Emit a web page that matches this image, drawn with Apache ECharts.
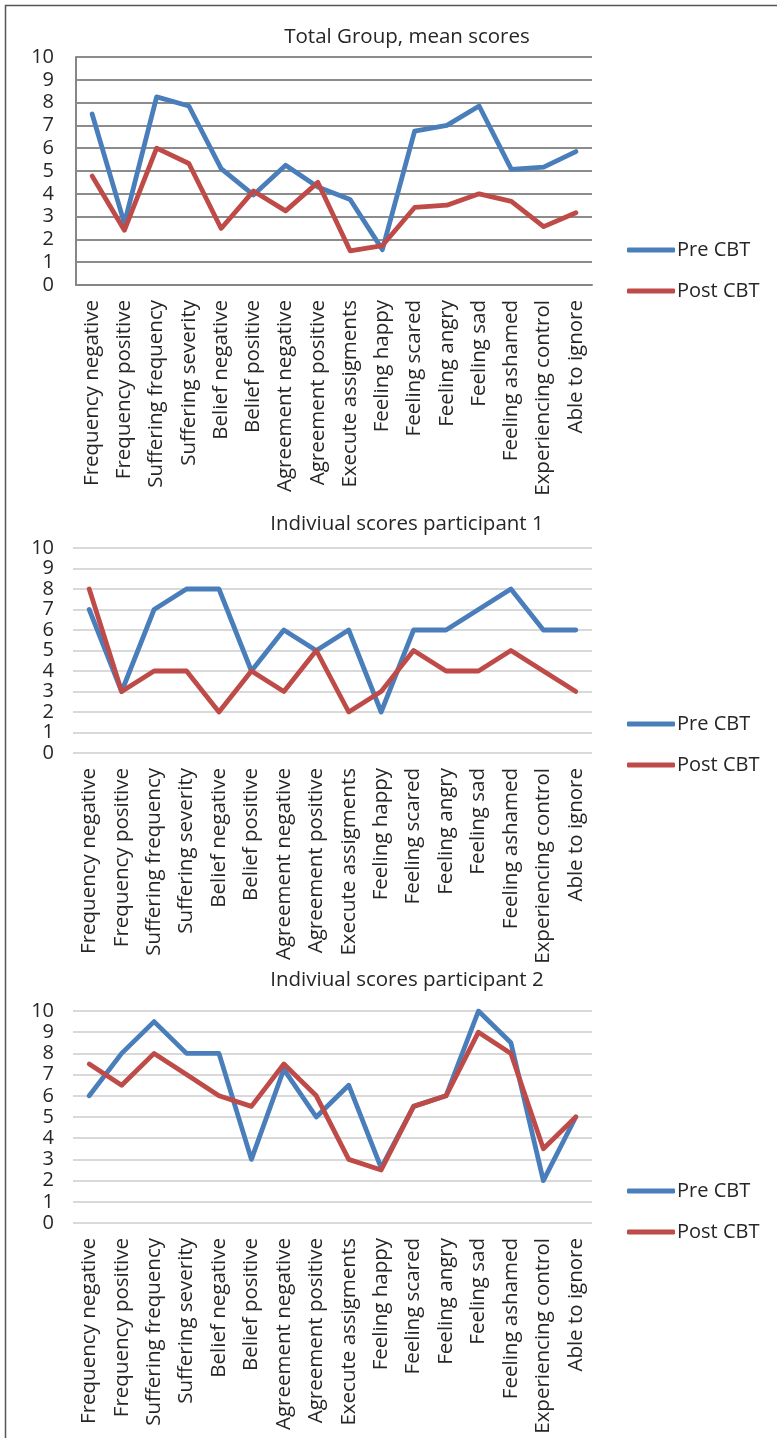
<!DOCTYPE html>
<html>
<head>
<meta charset="utf-8">
<script src="https://cdn.jsdelivr.net/npm/echarts@6/dist/echarts.min.js"></script>
<style>
html,body{margin:0;padding:0;background:#fff;}
#c{width:777px;height:1438px;}
</style>
</head>
<body>
<div id="c"></div>
<script>
var categories = ["Frequency negative","Frequency positive","Suffering frequency","Suffering severity","Belief negative","Belief positive","Agreement negative","Agreement positive","Execute assigments","Feeling happy","Feeling scared","Feeling angry","Feeling sad","Feeling ashamed","Experiencing control","Able to ignore"];
var yTicks = [0,1,2,3,4,5,6,7,8,9,10];
var titles = ["Total Group, mean scores","Indiviual scores participant 1","Indiviual scores participant 2"];
var seriesNames = ["Pre CBT","Post CBT"];

var totalPre  = [7.5, 2.7, 8.25, 7.85, 5.1, 3.95, 5.25, 4.3, 3.75, 1.55, 6.75, 7.0, 7.85, 5.07, 5.17, 5.85];
var totalPost = [4.78, 2.4, 6.0, 5.33, 2.48, 4.12, 3.25, 4.5, 1.5, 1.73, 3.4, 3.5, 4.0, 3.67, 2.56, 3.17];
var p1Pre  = [7, 3, 7, 8, 8, 4, 6, 5, 6, 2, 6, 6, 7, 8, 6, 6];
var p1Post = [8, 3, 4, 4, 2, 4, 3, 5, 2, 3, 5, 4, 4, 5, 4, 3];
var p2Pre  = [6, 8, 9.5, 8, 8, 3, 7.25, 5, 6.5, 2.6, 5.5, 6, 10, 8.5, 2, 5];
var p2Post = [7.5, 6.5, 8, 7, 6, 5.5, 7.5, 6, 3, 2.5, 5.5, 6, 9, 8, 3.5, 5];

var FONT = "Open Sans";
var TXT = "#262626";
var BLUE = "#4a7ebb";
var RED = "#be4b48";

var chart = echarts.init(document.getElementById('c'), null, {renderer:'canvas'});

var grids = [
  {left:76, top:57, width:516, height:228},
  {left:73, top:548, width:519, height:205},
  {left:73, top:1011, width:519, height:212}
];
var titleTops = [22, 509, 965];
var legendTops = [235, 709, 1176];
var data = [[totalPre,totalPost],[p1Pre,p1Post],[p2Pre,p2Post]];

var option = {
  animation:false,
  backgroundColor:'#fff',
  title: titles.map(function(t,i){return {text:t,left:402,top:titleTops[i],textAlign:'center',
    textStyle:{fontFamily:FONT,fontSize:20.5,fontWeight:'normal',color:TXT}};}),
  legend: [0,1,2].map(function(i){return {
    data:seriesNames, orient:'vertical', left:622, top:legendTops[i],
    itemWidth:48, itemHeight:5, itemGap:21, icon:'roundRect',
    textStyle:{fontFamily:FONT,fontSize:20,color:TXT,padding:[0,0,0,-3]},
    selectedMode:false
  };}),
  grid: grids,
  xAxis: [0,1,2].map(function(i){return {
    type:'category', gridIndex:i, data:categories, boundaryGap:true,
    axisTick:{show:false},
    axisLine:{show:i===0, lineStyle:{color:'#868686',width:2}},
    axisLabel:{rotate:90, interval:0, margin:15, fontFamily:FONT, fontSize:20.5, color:TXT},
    splitLine:{show:false}
  };}),
  yAxis: [0,1,2].map(function(i){return {
    type:'value', gridIndex:i, min:yTicks[0], max:yTicks[yTicks.length-1], interval:1,
    axisTick:{show:false},
    axisLine:{show:i===0, lineStyle:{color:'#868686',width:2}},
    axisLabel:{margin:i===0?22:19, fontFamily:FONT, fontSize:20, color:TXT},
    splitLine:{show:true, lineStyle:{color:i===0?'#8c8c8c':'#d9d9d9', width:2}}
  };}),
  series: [],
  graphic: [
    {type:'line', shape:{x1:5.5,y1:5,x2:5.5,y2:1438}, style:{stroke:'#555',lineWidth:1.5}},
    {type:'line', shape:{x1:5,y1:5.5,x2:777,y2:5.5}, style:{stroke:'#555',lineWidth:1.5}}
  ]
};
for (var i=0;i<3;i++){
  for (var s=0;s<2;s++){
    option.series.push({
      name:seriesNames[s], type:'line', xAxisIndex:i, yAxisIndex:i,
      data:data[i][s], symbol:'none', smooth:false,
      lineStyle:{color:s===0?BLUE:RED, width:4.8, join:'round', cap:'round'},
      itemStyle:{color:s===0?BLUE:RED}, z: s===0?2:3
    });
  }
}
chart.setOption(option);
</script>
</body>
</html>
